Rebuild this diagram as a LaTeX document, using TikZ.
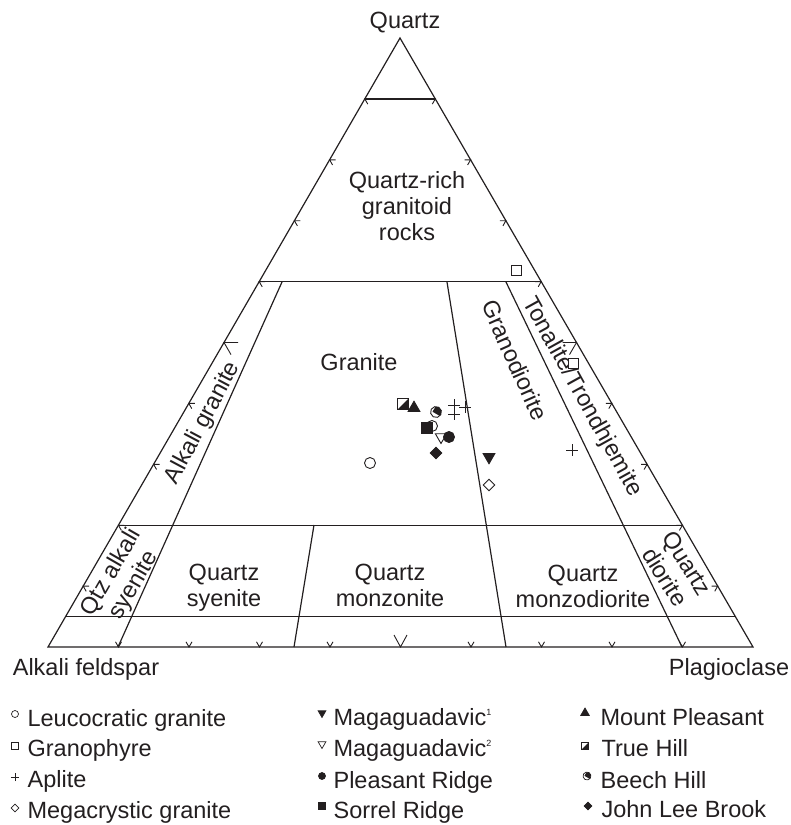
\documentclass[tikz,border=0pt]{standalone}
\usepackage{fontspec}
\setmainfont{Liberation Sans}
\usetikzlibrary{positioning,shapes.geometric,shapes.misc,calc}
\definecolor{ink}{HTML}{231F20}

\begin{document}
\begin{tikzpicture}[
  x=1pt, y=-1pt,
  color=ink, line width=1.2pt,
  lbl/.style={font=\fontsize{23.5}{26}\selectfont,align=center,inner sep=0pt},
  qaptick/.style={line width=0.9pt},
  sym/.style={draw,inner sep=0pt,minimum size=11pt,line width=0.9pt},
  legsym/.style={minimum size=7pt,line width=0.7pt},
  leuco/.style={sym,circle,fill=white},
  grano/.style={sym,rectangle,fill=white,minimum size=10pt},
  aplite/.style={sym,cross out,rotate=45,minimum size=7pt},
  mega/.style={sym,diamond,fill=white,minimum size=12pt},
  magaI/.style={sym,regular polygon,regular polygon sides=3,shape border rotate=180,fill=ink,minimum size=13.5pt},
  magaII/.style={sym,regular polygon,regular polygon sides=3,shape border rotate=180,fill=white,minimum size=13pt},
  pleasant/.style={sym,circle,fill=ink},
  sorrel/.style={sym,rectangle,fill=ink},
  mountp/.style={sym,regular polygon,regular polygon sides=3,fill=ink,minimum size=13.5pt},
  truehill/.style={sym,rectangle,fill=white,path picture={
    \fill[ink] (path picture bounding box.south west) -- (path picture bounding box.south east)
      -- (path picture bounding box.north east) -- cycle;}},
  beech/.style={sym,circle,fill=white,rotate=-30,path picture={
    \fill[ink] (path picture bounding box.north) rectangle (path picture bounding box.south east);}},
  johnlee/.style={sym,diamond,fill=ink,minimum size=12pt}
]
\useasboundingbox (0,0) rectangle (791,825);

% QAP triangle
\coordinate (Q) at (400,38);
\coordinate (A) at (48,647);
\coordinate (P) at (753,647);
\draw (A) -- (P) -- (Q) -- cycle;
\foreach \f in {0.9,0.6,0.2,0.05}
  \draw ($(A)!\f!(Q)$) -- ($(P)!\f!(Q)$);
\draw (282,282) -- (118,647);
\draw (314,525) -- (294,647);
\draw (447,282) -- (506,647);
\draw (506,282) -- (682,647);

% ticks every 10%
\foreach \i in {1,2,3,4,6,7,8,9}{
  \draw[qaptick] ($(A)!\i/10!(Q)$) +(6,0) -- +(0,0) -- +(3,5.2);
  \draw[qaptick] ($(P)!\i/10!(Q)$) +(-6,0) -- +(0,0) -- +(-3,5.2);
  \draw[qaptick] ($(A)!\i/10!(P)$) +(-3,-5.2) -- +(0,0) -- +(3,-5.2);
}
\draw[qaptick] ($(A)!0.5!(Q)$) +(14,0) -- +(0,0) -- +(7,12.1);
\draw[qaptick] ($(P)!0.5!(Q)$) +(-14,0) -- +(0,0) -- +(-7,12.1);
\draw[qaptick] ($(A)!0.5!(P)$) +(-6.5,-12) -- +(0,0) -- +(6.5,-12);

% corner and field labels
\node[lbl,anchor=base] (qtz) at (405,28.5) {Quartz};
\node[lbl,anchor=base] (afs) at (86,675) {Alkali feldspar};
\node[lbl,anchor=base] (plag) at (729,675) {Plagioclase};
\node[lbl] (qrich) at (407,206) {Quartz-rich\\granitoid\\rocks};
\node[lbl] (granite) at (359,362) {Granite};
\node[lbl,rotate=62] (akg) at (203,423) {Alkali granite};
\node[lbl,rotate=60] (qas) at (123,579) {Qtz alkali\\syenite};
\node[lbl,rotate=-66] (grd) at (515,360) {Granodiorite};
\node[lbl,rotate=-61] (ton) at (582,397) {Tonalite/Trondhjemite};
\node[lbl,rotate=-58] (qd) at (676,570) {Quartz\\diorite};
\node[lbl] (qs) at (224,588) {Quartz\\syenite};
\node[lbl] (qm) at (390,585) {Quartz\\monzonite};
\node[lbl] (qmd) at (583,586) {Quartz\\monzodiorite};

% samples
\node[grano] (g1) at (516,270) {};
\node[grano] (g2) at (573,363) {};
\node[aplite] (ap1) at (454,405) {};
\node[aplite] (ap2) at (454,414) {};
\node[aplite] (ap3) at (465,407) {};
\node[aplite] (ap4) at (572,450) {};
\node[truehill] (th) at (403,404) {};
\node[mountp] (mp) at (414,408) {};
\node[beech] (bh) at (436,412) {};
\node[leuco] (l2) at (432,426) {};
\node[sorrel] (sr) at (427,428) {};
\node[magaII] (m2) at (441,437) {};
\node[pleasant] (pr) at (449,437) {};
\node[johnlee] (jl) at (436,453) {};
\node[leuco] (l1) at (370,463) {};
\node[magaI] (m1) at (489,457) {};
\node[mega] (mc) at (489,485) {};

% legend
\node[leuco,legsym] (k1) at (15,714) {};
\node[lbl,anchor=base west] (t1) at (27,726) {Leucocratic granite};
\node[grano,legsym] (k2) at (15,746) {};
\node[lbl,anchor=base west] (t2) at (27,756) {Granophyre};
\node[aplite,legsym,minimum size=5pt] (k3) at (15,777) {};
\node[lbl,anchor=base west] (t3) at (27,787) {Aplite};
\node[mega,legsym,minimum size=8pt] (k4) at (15,808) {};
\node[lbl,anchor=base west] (t4) at (27,818) {Megacrystic granite};

\node[magaI,legsym,minimum size=9pt] (k5) at (322,713) {};
\node[lbl,anchor=base west] (t5) at (333,725) {Magaguadavic\raisebox{10pt}{\fontsize{9}{9}\selectfont 1}};
\node[magaII,legsym,minimum size=9pt] (k6) at (322,744) {};
\node[lbl,anchor=base west] (t6) at (333,756) {Magaguadavic\raisebox{10pt}{\fontsize{9}{9}\selectfont 2}};
\node[pleasant,legsym] (k7) at (322,776) {};
\node[lbl,anchor=base west] (t7) at (333,788) {Pleasant Ridge};
\node[sorrel,legsym] (k8) at (322,806) {};
\node[lbl,anchor=base west] (t8) at (333,818) {Sorrel Ridge};

\node[mountp,legsym,minimum size=10pt] (k9) at (585,713) {};
\node[lbl,anchor=base west] (t9) at (600,725) {Mount Pleasant};
\node[truehill,legsym] (k10) at (585,746) {};
\node[lbl,anchor=base west] (t10) at (601,756) {True Hill};
\node[beech,legsym,minimum size=8pt] (k11) at (587,776) {};
\node[lbl,anchor=base west] (t11) at (600,788) {Beech Hill};
\node[johnlee,legsym,minimum size=8pt] (k12) at (588,806) {};
\node[lbl,anchor=base west] (t12) at (601,817) {John Lee Brook};
\end{tikzpicture}
\end{document}
